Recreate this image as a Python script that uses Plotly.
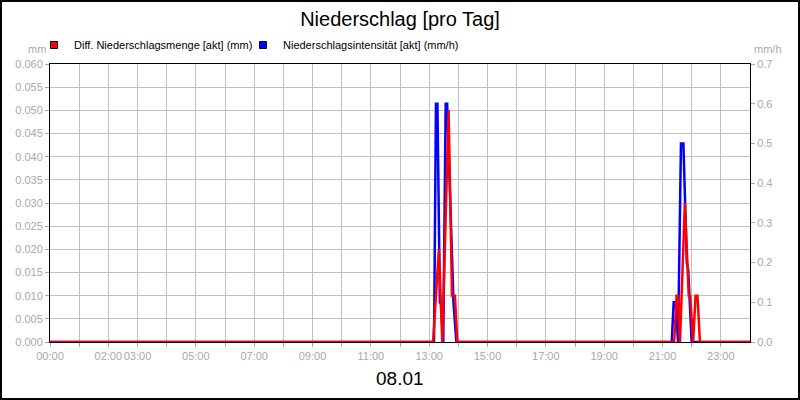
import plotly.graph_objects as go

DAY = "2024-01-08"

# Diff. Niederschlagsmenge [akt] (mm)
red_times = ["00:00", "13:08", "13:20", "13:27", "13:40", "13:47", "13:53", "13:58",
             "21:24", "21:29", "21:32", "21:36", "21:46", "21:54", "21:57", "22:03",
             "22:08", "22:12", "22:17", "24:00"]
red_vals = [0, 0, 0.02, 0, 0.05, 0.01, 0.01, 0,
            0, 0.01, 0.01, 0, 0.03, 0.01, 0.01, 0,
            0.01, 0.01, 0, 0]

# Niederschlagsintensität [akt] (mm/h)
blue_times = ["00:00", "13:10", "13:14", "13:17", "13:22", "13:24", "13:29", "13:34",
              "13:37", "13:50", "13:56", "21:19", "21:23", "21:27", "21:32", "21:38",
              "21:43", "21:50", "21:53", "22:00", "24:00"]
blue_vals = [0, 0, 0.6, 0.6, 0.1, 0.1, 0, 0.6,
             0.6, 0.1, 0, 0, 0.1, 0.1, 0, 0.5,
             0.5, 0.2, 0.18, 0, 0]

hour_labels = ["00:00", "", "02:00", "03:00", "", "05:00", "", "07:00", "", "09:00", "",
               "11:00", "", "13:00", "", "15:00", "", "17:00", "", "19:00", "", "21:00",
               "", "23:00"]

left_ticks = [i * 0.005 for i in range(13)]
right_ticks = [i * 0.1 for i in range(8)]


def ts(t):
    h, m = t.split(":")
    if h == "24":
        return "2024-01-09 00:00"
    return f"{DAY} {h}:{m}"


FONT = "Liberation Sans, Arial, sans-serif"
GRAY = "#a8a8a8"

fig = go.Figure()
# blue on primary (right-side) axis, red on overlaying (left-side) axis so red is drawn on top
fig.add_trace(go.Scatter(x=[ts(t) for t in blue_times], y=blue_vals, mode="lines",
                         line=dict(color="#0000ff", width=2.5), yaxis="y",
                         showlegend=False, hoverinfo="skip"))
fig.add_trace(go.Scatter(x=[ts(t) for t in red_times], y=red_vals, mode="lines",
                         line=dict(color="#ff0000", width=2.5), yaxis="y2",
                         showlegend=False, hoverinfo="skip"))
# legend entries
fig.add_trace(go.Scatter(x=[None], y=[None], mode="markers", name="Diff. Niederschlagsmenge [akt] (mm)",
                         marker=dict(symbol="square", size=7, color="#ff0000", line=dict(color="black", width=1)),
                         legend="legend", yaxis="y2"))
fig.add_trace(go.Scatter(x=[None], y=[None], mode="markers", name="Niederschlagsintensität [akt] (mm/h)",
                         marker=dict(symbol="square", size=7, color="#0000ff", line=dict(color="black", width=1)),
                         legend="legend2", yaxis="y"))

hour_vals = [f"{DAY} {h:02d}:00" for h in range(24)]

W, H = 700, 278


def px(xp):
    return (xp - 50) / W


def py(yp):
    return (342 - yp) / H


fig.update_layout(
    width=800, height=400,
    margin=dict(l=50, r=50, t=64, b=58),
    paper_bgcolor="white", plot_bgcolor="white",
    font=dict(family=FONT, size=11, color=GRAY),
    title=dict(text="Niederschlag [pro Tag]", x=0.5, xanchor="center", y=1 - 19 / 400,
               yanchor="middle", font=dict(family=FONT, size=20, color="black")),
    xaxis=dict(type="date", range=[f"{DAY} 00:00", "2024-01-09 00:00"],
               tickmode="array", tickvals=hour_vals, ticktext=hour_labels, tickangle=0,
               ticks="outside", ticklen=4, tickcolor=GRAY, showgrid=True, gridcolor="#c0c0c0",
               gridwidth=1, showline=True, linecolor="black", linewidth=1, mirror=True,
               tickfont=dict(size=11, color=GRAY), zeroline=False, automargin=False),
    yaxis=dict(range=[0, 0.7], side="right", tickmode="array",
               tickvals=right_ticks, ticktext=[f"{v:.1f}" for v in right_ticks],
               ticks="outside", ticklen=4, tickcolor=GRAY, showgrid=False,
               showline=True, linecolor="black", linewidth=1, zeroline=False,
               tickfont=dict(size=11, color=GRAY), automargin=False),
    yaxis2=dict(range=[0, 0.06], overlaying="y", side="left", tickmode="array",
                tickvals=left_ticks, ticktext=[f"{v:.3f}" for v in left_ticks],
                ticks="outside", ticklen=4, tickcolor=GRAY, showgrid=True, gridcolor="#c0c0c0",
                showline=True, linecolor="black", linewidth=1, zeroline=False,
                tickfont=dict(size=11, color=GRAY), automargin=False),
    legend=dict(x=px(34), y=py(45), xanchor="left", yanchor="middle", orientation="h",
                font=dict(size=11, color="black", family=FONT), itemwidth=30,
                bgcolor="rgba(0,0,0,0)", borderwidth=0),
    legend2=dict(x=px(243), y=py(45), xanchor="left", yanchor="middle", orientation="h",
                 font=dict(size=11, color="black", family=FONT), itemwidth=30,
                 bgcolor="rgba(0,0,0,0)", borderwidth=0),
    shapes=[dict(type="rect", xref="paper", yref="paper", x0=px(1), x1=px(799),
                 y0=py(399), y1=py(1), line=dict(color="black", width=2), layer="above")],
    annotations=[
        dict(text="mm", xref="paper", yref="paper", x=px(48), y=py(49), xanchor="right",
             yanchor="middle", showarrow=False, font=dict(size=11, color=GRAY)),
        dict(text="mm/h", xref="paper", yref="paper", x=px(752), y=py(49), xanchor="left",
             yanchor="middle", showarrow=False, font=dict(size=11, color=GRAY)),
        dict(text="08.01", xref="paper", yref="paper", x=px(400), y=py(378), xanchor="center",
             yanchor="middle", showarrow=False, font=dict(size=19, color="black")),
    ],
)

fig.write_html("out.html", config={"displayModeBar": False},
               post_script="document.body.style.margin='0';")
